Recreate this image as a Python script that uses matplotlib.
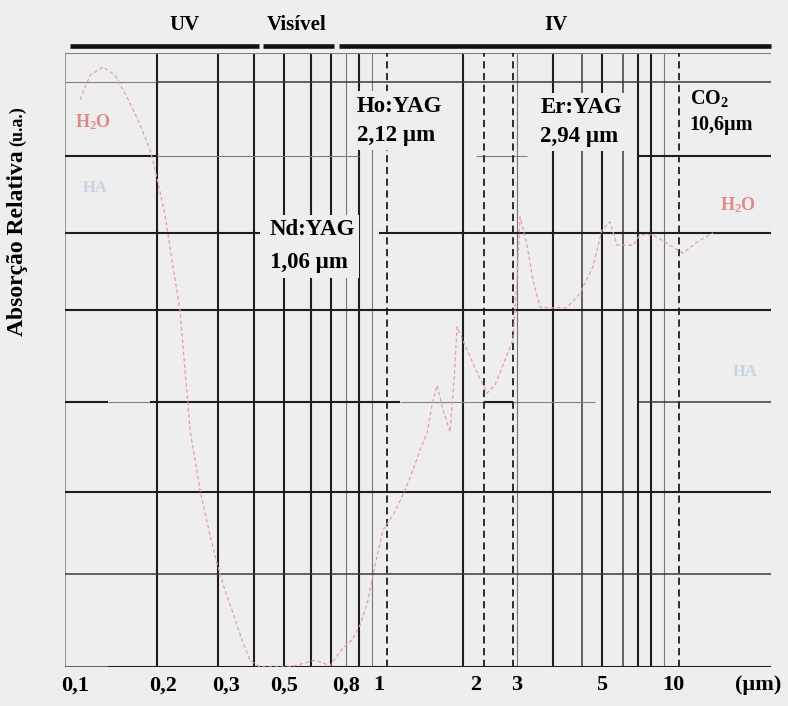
import numpy as np
import matplotlib
matplotlib.use("Agg")
import matplotlib.pyplot as plt

plt.rcParams['font.family'] = ['Liberation Serif', 'DejaVu Serif']
plt.rcParams['mathtext.fontset'] = 'custom'
plt.rcParams['mathtext.rm'] = 'Liberation Serif'
plt.rcParams['mathtext.bf'] = 'Liberation Serif:bold'
plt.rcParams['mathtext.it'] = 'Liberation Serif:italic'

# ---------------- data ----------------
tick_wl = [0.1, 0.2, 0.3, 0.5, 0.8, 1, 2, 3, 5, 10, 26]
tick_labels = ['0,1', '0,2', '0,3', '0,5', '0,8', '1', '2', '3', '5', '10', '(µm)']

# water absorption spectrum (wavelength in µm, relative absorption 0-100)
h2o_wl = [0.104, 0.1126, 0.1247, 0.1371, 0.1507, 0.167, 0.1807, 0.1909, 0.2026,
          0.2119, 0.2231, 0.2304, 0.238, 0.2538, 0.2706, 0.2831, 0.298, 0.3191,
          0.3454, 0.3706, 0.4047, 0.5233, 0.6324, 0.7085, 0.782, 0.8337, 0.8808,
          0.9307, 0.9765, 1.0316, 1.1224, 1.2058, 1.2767, 1.3421, 1.4109, 1.4625,
          1.5157, 1.582, 1.6633, 1.7115, 1.7487, 1.8516, 1.9891, 2.1931, 2.40,
          2.6869, 2.94, 3.011, 3.065, 3.196, 3.312, 3.454, 3.732, 4.058, 4.384,
          4.738, 5.0, 5.405, 5.787, 6.765, 7.244, 8.224, 9.707, 11.09, 12.99, 15.57]
h2o_abs = [92.4, 96.4, 97.7, 96.4, 92.8, 88.3, 84.2, 79.6, 73.6,
           66.3, 58.1, 48.4, 38.6, 28.8, 21.5, 16.9, 12.5, 8.8,
           4.4, 1.1, 0.0, 0.0, 1.1, 0.2, 3.1, 4.4, 6.8,
           10.9, 16.6, 22.3, 25.3, 28.8, 32.1, 35.3, 38.1, 42.7,
           45.9, 41.9, 38.3, 46.7, 55.4, 52.4, 48.7, 44.6, 45.9,
           50.0, 53.3, 63.0, 73.3, 68.7, 63.0, 58.6, 58.5, 58.5, 60.9,
           65.2, 71.2, 72.5, 68.7, 68.7, 70.4, 70.4, 68.7, 67.4, 69.2, 70.7]

laser_wl = [1.06, 2.12, 2.94, 10.6]
laser_labels = ['Nd:YAG\n1,06 µm', 'Ho:YAG\n2,12 µm', 'Er:YAG\n2,94 µm',
                r'CO$_\mathbf{2}$' + '\n10,6µm']

bands = ['UV', 'Visível', 'IV']
band_start = [0.096, 0.415, 0.76]
band_end = [0.40, 0.73, 30]

# vertical rulings of the chart paper (µm)
grid_dark = [0.191, 0.285, 0.384, 0.5, 0.614, 0.714, 0.875, 1.82, 3.74, 5.0, 7.10, 8.06]
grid_medium = [4.44, 6.14]
grid_thin = [0.8, 0.956, 3.01, 9.16]
grid_edge = [0.092, 30]

# horizontal rulings (relative absorption)
h_levels = [100, 95.3, 83.2, 70.7, 58.1, 43.2, 28.5, 15.1, 0]

# ---------------- wavelength axis ----------------
AX_WL = np.array([0.092, 0.1, 0.2, 0.3, 0.5, 0.8, 1.06, 2.12, 2.94, 5.0, 10.6, 30.0])
AX_POS = np.array([65, 75, 163, 226, 284, 346, 387, 484, 513, 602, 679, 771], float)
LOG_WL = np.log10(AX_WL)


def fwd(x):
    x = np.asarray(x, float)
    return np.interp(np.log10(np.clip(x, 1e-6, None)), LOG_WL, AX_POS)


def inv(p):
    p = np.asarray(p, float)
    return 10 ** np.interp(p, AX_POS, LOG_WL)


BG = '#eeeeee'
DARK = '#1e1e1e'
fig = plt.figure(figsize=(7.88, 7.06), dpi=100, facecolor=BG)
ax = fig.add_axes([65 / 788, 39 / 706, 706 / 788, 614 / 706], facecolor=BG)
ax.set_xscale('function', functions=(fwd, inv))
ax.set_xlim(0.092, 30)
ax.set_ylim(0, 100)
for s in ax.spines.values():
    s.set_visible(False)
ax.set_yticks([])
ax.set_xticks(tick_wl)
ax.set_xticklabels(tick_labels, fontsize=16, fontweight='bold')
ax.tick_params(axis='x', length=0, pad=6)
ax.minorticks_off()

# vertical rulings
for w in grid_dark:
    ax.axvline(w, color=DARK, lw=1.5, zorder=2)
for w in grid_medium:
    ax.axvline(w, color='#3a3a3a', lw=1.1, zorder=2)
for w in grid_thin:
    ax.axvline(w, color='#777777', lw=0.8, zorder=2)
for w in grid_edge:
    ax.axvline(w, color='#9a9a9a', lw=0.8, zorder=2)

# horizontal rulings, drawn as segments (x0, x1, weight)
h_segments = {
    100: [(0.092, 30, 'thin')],
    95.3: [(0.092, 0.19, 'thin'), (0.19, 30, 'medium')],
    83.2: [(0.092, 0.191, 'dark'), (0.191, 0.875, 'thin'), (2.0, 3.2, 'thin'),
           (7.1, 30, 'dark')],
    70.7: [(0.092, 0.405, 'dark'), (1.0, 30, 'dark')],
    58.1: [(0.092, 30, 'dark')],
    43.2: [(0.092, 0.13, 'dark'), (0.13, 0.18, 'thin'), (0.18, 1.16, 'dark'),
           (1.16, 4.8, 'thin'), (2.12, 2.94, 'dark'), (7.2, 30, 'medium')],
    28.5: [(0.092, 30, 'dark')],
    15.1: [(0.092, 30, 'medium')],
    0: [(0.092, 0.13, 'medium'), (0.13, 30, 'dark')],
}
weights = {'dark': (DARK, 1.5), 'medium': ('#3a3a3a', 1.1), 'thin': ('#808080', 0.8)}
for lev in h_levels:
    for x0, x1, wgt in h_segments[lev]:
        c, lw = weights[wgt]
        ax.plot([x0, x1], [lev, lev], color=c, lw=lw, zorder=2, solid_capstyle='butt')

# laser emission lines
for w in laser_wl:
    ax.axvline(w, color=DARK, lw=1.3, dashes=(4, 2.5), zorder=2)

# water absorption curve
ax.plot(h2o_wl, h2o_abs, color='#e6a0a0', lw=0.9, dashes=(3, 2), zorder=4)

# spectral region bar above the chart
for b0, b1 in zip(band_start, band_end):
    ax.plot([b0, b1], [101.1, 101.1], color='#111111', lw=3.3, clip_on=False,
            solid_capstyle='butt', zorder=5)
band_label_x = [0.23, 0.55, 3.8]
for name, bx in zip(bands, band_label_x):
    ax.text(bx, 104.6, name, ha='center', va='center', fontsize=15,
            fontweight='bold', clip_on=False)

# laser labels
box = dict(facecolor=BG, edgecolor='none', pad=3)
label_xy = [(0.441, 68.5, 1.75, 16.5), (0.862, 89.0, 1.5, 16.5),
            (3.46, 88.8, 1.5, 16.5), (11.97, 90.4, 1.4, 14.5)]
for txt, (lx, ly, ls, fs) in zip(laser_labels, label_xy):
    ax.text(lx, ly, txt, ha='left', va='center', fontsize=fs, fontweight='bold',
            linespacing=ls, bbox=box, zorder=6)

# species labels
ax.text(0.115, 88.8, r'H$_\mathbf{2}$O', color='#e08888', fontsize=13,
        fontweight='bold', ha='center', va='center', zorder=6)
ax.text(20.7, 75.2, r'H$_\mathbf{2}$O', color='#e08888', fontsize=13,
        fontweight='bold', ha='center', va='center', zorder=6)
ax.text(0.117, 78.0, 'HA', color='#c6d4e2', fontsize=12, fontweight='bold',
        ha='center', va='center', zorder=6)
ax.text(22.4, 48.0, 'HA', color='#c6d4e2', fontsize=12, fontweight='bold',
        ha='center', va='center', zorder=6)

# y-axis title
fig.text(18 / 788, (706 - 336) / 706, 'Absorção Relativa', rotation=90,
         ha='center', va='bottom', fontsize=17, fontweight='bold')
fig.text(18 / 788, (706 - 146) / 706, '(u.a.)', rotation=90,
         ha='center', va='bottom', fontsize=13, fontweight='bold')

fig.savefig('out.png', dpi=100, facecolor=BG)
